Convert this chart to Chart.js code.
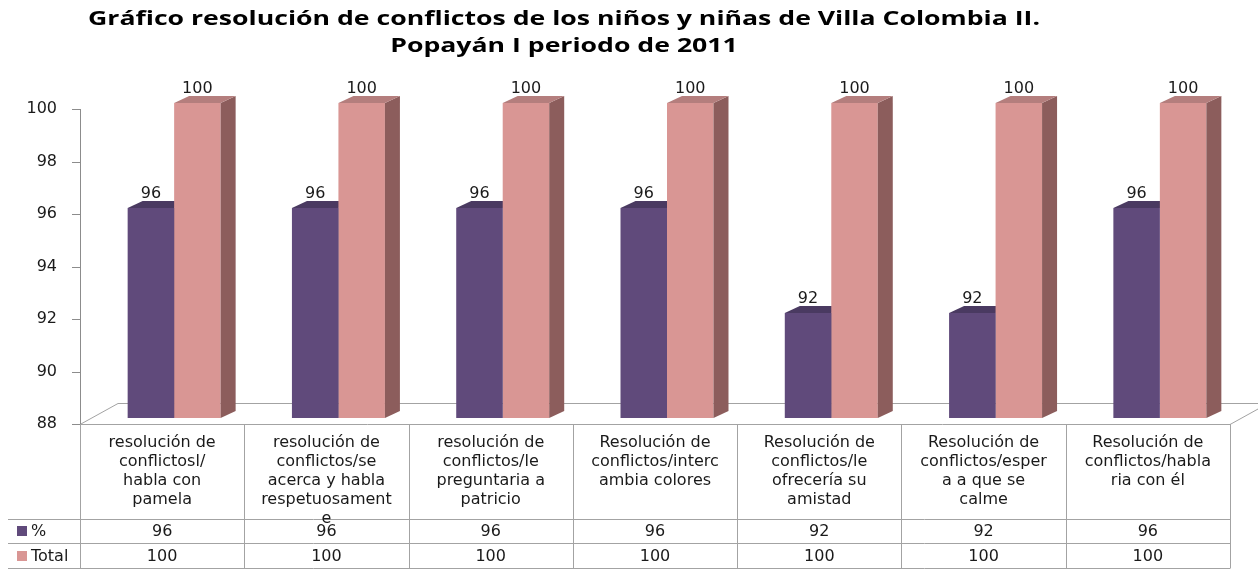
<!DOCTYPE html>
<html><head><meta charset="utf-8">
<script src="https://cdn.jsdelivr.net/npm/chart.js@4/dist/chart.umd.min.js"></script>
<style>html,body{margin:0;padding:0;background:#fff}#wrap{width:1258px;height:571px;position:relative}</style>
</head><body><div id="wrap"><canvas id="c" width="1258" height="571"></canvas></div>
<script>
const titleLines = ["Gráfico resolución de conflictos de los niños y niñas de Villa Colombia II.", "Popayán I periodo de 2011"];
const categories = [
  ["resolución de","conflictosl/","habla con","pamela"],
  ["resolución de","conflictos/se","acerca y habla","respetuosament","e"],
  ["resolución de","conflictos/le","preguntaria a","patricio"],
  ["Resolución de","conflictos/interc","ambia colores"],
  ["Resolución de","conflictos/le","ofrecería su","amistad"],
  ["Resolución de","conflictos/esper","a a que se","calme"],
  ["Resolución de","conflictos/habla","ria con él"]
];
const seriesNames = ["%", "Total"];
const pctValues = [96, 96, 96, 96, 92, 92, 96];
const totalValues = [100, 100, 100, 100, 100, 100, 100];
const yMin = 88, yMax = 100, yStep = 2;

const FONT = '"DejaVu Sans", Verdana, sans-serif';
const DX = 15, DY = 7, SHIFT = 12, AXOFF = 6;
const colors = {
  front: ['#604A7B', '#D99694'],
  top:   ['#4A3A61', '#B47E7D'],
  side:  ['#3E3052', '#8C5D5C']
};
const TXT = '#1a1a1a', LINE = '#A3A3A3';

function draw3d(chart, i) {
  const ctx = chart.ctx;
  const base = chart.scales.y.getPixelForValue(yMin);
  const meta = chart.getDatasetMeta(i);
  meta.data.forEach(el => {
    const l = el.x - el.width/2, r = el.x + el.width/2, y = el.y;
    ctx.fillStyle = colors.side[i];
    ctx.beginPath();
    ctx.moveTo(r, y); ctx.lineTo(r+DX, y-DY); ctx.lineTo(r+DX, base-DY); ctx.lineTo(r, base);
    ctx.closePath(); ctx.fill();
    ctx.fillStyle = colors.top[i];
    ctx.beginPath();
    ctx.moveTo(l, y); ctx.lineTo(l+DX, y-DY); ctx.lineTo(r+DX, y-DY); ctx.lineTo(r, y);
    ctx.closePath(); ctx.fill();
  });
}

const deco = {
  id: 'deco',
  beforeDraw(chart) {
    const ctx = chart.ctx;
    ctx.save();
    ctx.fillStyle = '#fff';
    ctx.fillRect(0, 0, chart.width, chart.height);
    ctx.fillStyle = '#000';
    ctx.font = 'bold 20px "Open Sans", sans-serif';
    const w = ctx.measureText(titleLines[0]).width;
    const sx = 952 / w;
    ctx.textAlign = 'center'; ctx.textBaseline = 'middle';
    [19, 46].forEach((y, k) => {
      ctx.save(); ctx.translate(564, y); ctx.scale(sx, 1);
      ctx.fillText(titleLines[k], 0, 0);
      ctx.restore();
    });
    ctx.restore();
  },
  beforeDatasetsDraw(chart) {
    const ctx = chart.ctx, xs = chart.scales.x, ys = chart.scales.y;
    const left = xs.left - SHIFT, right = xs.right - SHIFT;
    const front = ys.getPixelForValue(yMin) + AXOFF;
    ctx.save();
    ctx.strokeStyle = LINE; ctx.lineWidth = 1;
    ctx.beginPath();
    ctx.moveTo(left, front + 0.5); ctx.lineTo(left + 38, front - 21 + 0.5); ctx.lineTo(chart.width, front - 21 + 0.5);
    ctx.moveTo(right, front + 0.5); ctx.lineTo(right + 38, front - 21 + 0.5);
    ctx.stroke();
    ctx.strokeStyle = '#8C8C8C';
    ctx.beginPath();
    ctx.moveTo(left + 0.5, ys.getPixelForValue(yMax) + AXOFF); ctx.lineTo(left + 0.5, front);
    ys.ticks.forEach(t => {
      const y = Math.round(ys.getPixelForValue(t.value) + AXOFF) + 0.5;
      ctx.moveTo(left - 8, y); ctx.lineTo(left + 0.5, y);
    });
    ctx.stroke();
    ctx.restore();
    ctx.save();
    draw3d(chart, 0);
    ctx.restore();
  },
  afterDatasetsDraw(chart) {
    const ctx = chart.ctx, xs = chart.scales.x, ys = chart.scales.y;
    ctx.save();
    draw3d(chart, 1);
    ctx.fillStyle = TXT; ctx.font = '16px ' + FONT;
    ctx.textAlign = 'center'; ctx.textBaseline = 'alphabetic';
    [0, 1].forEach(i => {
      const ds = chart.data.datasets[i];
      chart.getDatasetMeta(i).data.forEach((el, j) => {
        ctx.fillText(String(ds.data[j]), el.x, el.y - DY - 3);
      });
    });
    const left = xs.left - SHIFT, right = xs.right - SHIFT;
    const top = ys.getPixelForValue(yMin) + AXOFF;
    const r1 = 519, r2 = 543, r3 = 568, lx = 8;
    const n = chart.data.labels.length, cw = (right - left) / n;
    ctx.strokeStyle = LINE; ctx.lineWidth = 1;
    ctx.beginPath();
    ctx.moveTo(left, top + 0.5); ctx.lineTo(right, top + 0.5);
    [r1, r2, r3].forEach(y => { ctx.moveTo(lx, y + 0.5); ctx.lineTo(right, y + 0.5); });
    for (let k = 0; k <= n; k++) {
      const x = Math.round(left + k * cw) + 0.5;
      ctx.moveTo(x, top); ctx.lineTo(x, r3 + 0.5);
    }
    ctx.stroke();
    ctx.fillStyle = TXT; ctx.textBaseline = 'middle'; ctx.textAlign = 'center';
    chart.data.labels.forEach((lines, k) => {
      const cx = left + (k + 0.5) * cw;
      lines.forEach((s, m) => ctx.fillText(s, cx, 443 + m * 19));
      ctx.fillText(String(chart.data.datasets[0].data[k]), cx, (r1 + r2) / 2 + 1);
      ctx.fillText(String(chart.data.datasets[1].data[k]), cx, (r2 + r3) / 2 + 1);
    });
    ctx.textAlign = 'left';
    [[r1, r2], [r2, r3]].forEach(([a, b], i) => {
      const cy = (a + b) / 2;
      ctx.fillStyle = colors.front[i];
      ctx.fillRect(17, Math.round(cy - 5), 10, 10);
      ctx.fillStyle = TXT;
      ctx.fillText(chart.data.datasets[i].label, 31, cy + 1);
    });
    ctx.restore();
  }
};

new Chart(document.getElementById('c'), {
  type: 'bar',
  data: {
    labels: categories,
    datasets: [
      { label: seriesNames[0], data: pctValues, backgroundColor: colors.front[0], borderWidth: 0, categoryPercentage: 0.566, barPercentage: 1 },
      { label: seriesNames[1], data: totalValues, backgroundColor: colors.front[1], borderWidth: 0, categoryPercentage: 0.566, barPercentage: 1 }
    ]
  },
  options: {
    responsive: false,
    devicePixelRatio: 1,
    animation: false,
    layout: { padding: { top: 103, right: 16, left: 0, bottom: 0 } },
    plugins: { legend: { display: false }, title: { display: false }, tooltip: { enabled: false } },
    scales: {
      x: {
        ticks: { display: false },
        grid: { display: false },
        border: { display: false },
        afterFit(s) { s.height = 153; }
      },
      y: {
        min: yMin, max: yMax,
        ticks: { stepSize: yStep, font: { family: FONT, size: 16 }, color: TXT, padding: 27, labelOffset: AXOFF },
        grid: { display: false, drawTicks: true, tickLength: 8 },
        border: { display: false },
        afterFit(s) { s.width = 92; }
      }
    }
  },
  plugins: [deco]
});
</script>
</body></html>
